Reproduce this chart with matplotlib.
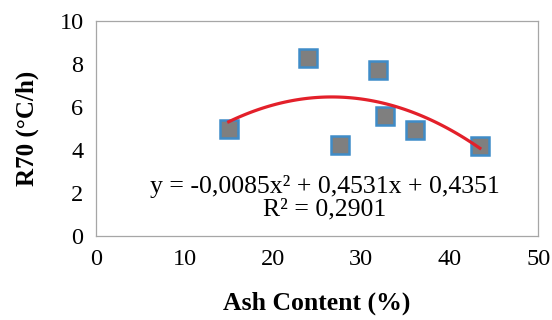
import numpy as np
import matplotlib.pyplot as plt

plt.rcParams['font.family'] = ['Liberation Serif', 'DejaVu Serif']
plt.rcParams['font.size'] = 17

# ash content (%) vs R70 (°C/h)
ash = [15.0, 24.0, 27.6, 31.9, 32.7, 36.1, 43.4]
r70 = [5.0, 8.3, 4.25, 7.75, 5.6, 4.95, 4.2]

# second order trend line
coef = [-0.0085, 0.4531, 0.4351]
r2 = 0.2901

fig = plt.figure(figsize=(5.52, 3.2), dpi=100)
ax = fig.add_axes([0.174, 0.262, 0.801, 0.672])

xs = np.linspace(min(ash), max(ash), 100)
ax.plot(xs, np.polyval(coef, xs), color='#e3202a', lw=2.3, zorder=3)
ax.plot(ash, r70, 's', ms=12.5, mfc='#7f7f7f', mec='#3f8cc8', mew=1.8, zorder=2)

ax.text(0.518, 0.23, 'y = -0,0085x² + 0,4531x + 0,4351',
        transform=ax.transAxes, ha='center', va='center', fontsize=18.5)
ax.text(0.518, 0.125, 'R² = ' + f'{r2:.4f}'.replace('.', ','),
        transform=ax.transAxes, ha='center', va='center', fontsize=18.5)

ax.set_xlim(0, 50)
ax.set_ylim(0, 10)
ax.set_xticks(range(0, 51, 10))
ax.set_yticks(range(0, 11, 2))
ax.tick_params(length=0, pad=9, labelsize=17.5)
for s in ax.spines.values():
    s.set_color('#a6a6a6')
    s.set_linewidth(0.9)

ax.set_xlabel('Ash Content (%)', fontweight='bold', fontsize=18.5, labelpad=16)
ax.set_ylabel('R70 (°C/h)', fontweight='bold', fontsize=18, labelpad=15)

fig.savefig('out.png', dpi=100)
